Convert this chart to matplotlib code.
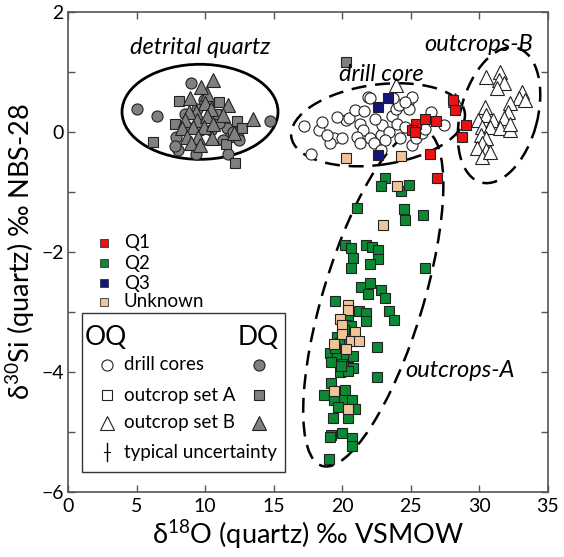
import matplotlib
matplotlib.use('Agg')
import matplotlib.pyplot as plt
from matplotlib.patches import Ellipse, Rectangle

plt.rcParams['font.family'] = ['Lato', 'DejaVu Sans']
plt.rcParams['mathtext.fontset'] = 'custom'
plt.rcParams['mathtext.rm'] = 'Lato'

# =Data
# detrital quartz (DQ, grey filled)
dq_circ_x = [9.0, 5.0, 6.5, 14.7, 9.3, 11.7, 8.0, 7.9, 7.8, 8.7, 9.6, 10.7, 10.4, 11.6, 12.4, 11.8,
             11.3, 12.5, 9.9, 9.4, 10.2, 8.5, 11.0, 12.0]
dq_circ_y = [0.81, 0.39, 0.27, 0.18, -0.36, -0.36, -0.30, -0.08, -0.24, 0.09, 0.03, 0.23, 0.03, 0.06,
             -0.08, -0.08, -0.13, -0.13, 0.53, 0.39, 0.45, 0.30, 0.15, 0.0]
dq_sq_x = [8.1, 11.0, 6.2, 12.2, 12.3, 12.7, 7.8, 10.8, 11.5, 20.3]
dq_sq_y = [0.52, 0.50, -0.17, -0.52, 0.18, 0.06, 0.14, 0.30, -0.20, 1.17]
dq_tri_x = [10.6, 11.7, 13.5, 8.9, 10.1, 10.0, 9.3, 10.4, 8.8, 8.5, 9.4, 10.1, 8.3, 9.1, 9.9, 10.6,
            8.7, 9.5, 10.5, 9.0, 9.6, 12.1, 11.3, 9.7]
dq_tri_y = [0.87, 0.45, 0.22, 0.56, 0.64, 0.48, 0.34, 0.39, 0.34, 0.20, 0.20, 0.26, 0.06, 0.09, 0.09,
            0.14, -0.08, -0.08, -0.10, -0.19, -0.22, -0.02, 0.28, 0.75]

# drill cores (OQ, open circles)
dc_x = [17.7, 18.3, 18.5, 19.4, 20.0, 19.1, 20.3, 20.5, 21.3, 21.5, 21.9, 22.0, 22.8, 22.9, 23.4, 23.6,
        23.9, 24.1, 24.8, 24.9, 25.1, 24.2, 25.1, 25.4, 25.8, 26.5, 26.0, 27.4, 21.1, 21.3, 22.3, 23.1,
        22.8, 24.0, 24.6, 20.9, 21.6, 22.4, 24.6, 23.7, 19.6, 17.2, 18.9, 22.0]
dc_y = [-0.36, 0.03, 0.17, -0.10, -0.10, -0.19, 0.20, 0.23, 0.14, 0.03, 0.59, -0.10, -0.05, 0.12, 0.00,
        0.26, 0.39, 0.45, 0.50, 0.39, 0.59, -0.10, -0.22, -0.10, -0.02, 0.34, 0.05, 0.12, -0.08, -0.19,
        -0.19, -0.14, -0.30, 0.14, 0.08, 0.37, 0.35, 0.22, 0.50, 0.56, 0.25, 0.10, -0.05, 0.57]

# outcrop set B (OQ, open triangles)
ob_x = [30.5, 31.5, 31.4, 31.8, 31.3, 33.1, 32.9, 33.3, 32.2, 30.4, 32.1, 30.5, 29.9, 31.0, 31.8, 30.2,
        30.8, 31.5, 32.2, 30.1, 30.5, 30.2, 29.8, 30.5, 30.2, 30.8, 32.2, 23.9, 28.2]
ob_y = [0.92, 1.00, 0.87, 0.81, 0.73, 0.67, 0.56, 0.53, 0.48, 0.42, 0.34, 0.28, 0.20, 0.20, 0.23, 0.09,
        0.09, 0.06, 0.03, -0.05, -0.10, -0.19, -0.27, -0.30, -0.41, -0.33, 0.14, 0.78, 0.53]

# outcrop set A (squares) by group
q1_x = [28.1, 28.2, 25.4, 26.0, 26.8, 25.1, 25.3, 29.0, 28.7, 26.4, 26.9]
q1_y = [0.53, 0.37, 0.14, 0.22, 0.19, 0.03, 0.00, 0.12, -0.09, -0.37, -0.77]
q2_x = [23.1, 22.8, 24.3, 24.9, 21.1, 24.5, 24.6, 25.9, 20.2, 20.6, 21.7, 22.2, 22.6, 20.8, 22.6, 20.6,
        22.0, 26.0, 21.4, 22.0, 21.9, 22.8, 23.1, 19.5, 23.4, 23.8, 21.2, 21.7, 21.7, 22.5, 22.5, 20.4,
        20.3, 20.6, 19.6, 19.8, 19.1, 19.6, 20.3, 20.8, 19.2, 20.0, 20.4, 20.8, 19.8, 20.4, 19.2, 18.7,
        20.2, 19.4, 20.1, 20.7, 19.7, 20.9, 20.4, 19.3, 19.2, 20.0, 20.7, 19.1, 20.7, 19.0, 20.1, 19.5,
        19.9, 20.5]
q2_y = [-0.77, -0.90, -0.98, -0.88, -1.26, -1.29, -1.46, -1.38, -1.88, -1.94, -1.88, -1.92, -1.96, -2.10,
        -2.11, -2.26, -2.20, -2.27, -2.58, -2.51, -2.70, -2.63, -2.77, -2.81, -2.99, -3.13, -2.99, -3.02,
        -3.15, -3.59, -4.09, -3.08, -3.22, -3.24, -3.41, -3.52, -3.68, -3.72, -3.74, -3.74, -3.83, -3.86,
        -3.91, -3.94, -4.00, -3.98, -4.19, -4.38, -4.30, -4.46, -4.47, -4.47, -4.58, -4.61, -4.76, -4.77,
        -5.05, -5.02, -5.10, -5.08, -5.24, -5.45, -3.30, -3.60, -3.90, -3.45]
q3_x = [22.6, 23.3, 22.6]
q3_y = [0.42, 0.57, -0.38]
unk_x = [20.3, 24.3, 24.0, 23.0, 20.4, 20.4, 19.8, 20.0, 20.0, 20.9, 20.6, 21.2, 19.4, 20.3, 19.4, 20.4]
unk_y = [-0.44, -0.40, -0.90, -1.55, -2.88, -2.96, -3.11, -3.22, -3.36, -3.33, -3.48, -3.49, -3.54,
         -3.61, -4.31, -4.61]

q_labels = ['Q1', 'Q2', 'Q3', 'Unknown']
q_colors = ['#ee1111', '#0a8a35', '#14147a', '#f0c49a']
grey = '#808080'

fig = plt.figure(figsize=(5.64, 5.57), dpi=100)
ax = fig.add_axes([0.1206, 0.1167, 0.851, 0.8618])

ms_c, ms_s, ms_t = 8, 6.8, 9.5
# detrital
ax.plot(dq_circ_x, dq_circ_y, 'o', ms=ms_c, mfc=grey, mec='#222', mew=0.8, ls='none')
ax.plot(dq_sq_x, dq_sq_y, 's', ms=ms_s, mfc=grey, mec='#222', mew=0.8, ls='none')
ax.plot(dq_tri_x, dq_tri_y, '^', ms=ms_t, mfc=grey, mec='#222', mew=0.8, ls='none')
# OQ
ax.plot(dc_x, dc_y, 'o', ms=ms_c, mfc='white', mec='#222', mew=0.8, ls='none')
ax.plot(ob_x, ob_y, '^', ms=ms_t, mfc='white', mec='#222', mew=0.8, ls='none')
for xs, ys, c in zip([q2_x, unk_x, q1_x, q3_x], [q2_y, unk_y, q1_y, q3_y],
                     [q_colors[1], q_colors[3], q_colors[0], q_colors[2]]):
    ax.plot(xs, ys, 's', ms=ms_s, mfc=c, mec='#222', mew=0.8, ls='none')

# group outlines (axes fraction, plot area is square)
tr = ax.transAxes
ax.add_patch(Ellipse((0.275, 0.792), 0.325, 0.198, fill=False, lw=2, ec='black', transform=tr))
dash = (0, (6, 3.5))
ax.add_patch(Ellipse((0.646, 0.765), 0.365, 0.167, angle=8, fill=False, lw=1.8, ec='black',
                     ls=dash, transform=tr))
ax.add_patch(Ellipse((0.898, 0.785), 0.29, 0.16, angle=75, fill=False, lw=1.8, ec='black',
                     ls=dash, transform=tr))
ax.add_patch(Ellipse((0.636, 0.404), 0.731, 0.208, angle=73, fill=False, lw=1.8, ec='black',
                     ls=dash, transform=tr))

ax.text(0.275, 0.925, 'detrital quartz', style='italic', fontsize=17, ha='center', va='center', transform=tr)
ax.text(0.652, 0.869, 'drill core', style='italic', fontsize=17, ha='center', va='center', transform=tr)
ax.text(0.855, 0.933, 'outcrops-B', style='italic', fontsize=17, ha='center', va='center', transform=tr)
ax.text(0.817, 0.254, 'outcrops-A', style='italic', fontsize=17, ha='center', va='center', transform=tr)

# colour legend
q_rows = [0.519, 0.477, 0.435, 0.396]
for lab, c, yy in zip(q_labels, q_colors, q_rows):
    ax.plot([0.074], [yy], 's', ms=5.5, mfc=c, mec='#333', mew=0.6, transform=tr)
    ax.text(0.116, yy, lab, fontsize=13.5, va='center', transform=tr)

# symbol legend box
ax.add_patch(Rectangle((0.029, 0.042), 0.423, 0.331, fill=False, lw=1, ec='#333', transform=tr))
ax.text(0.035, 0.321, 'OQ', fontsize=19, va='center', transform=tr)
ax.text(0.44, 0.321, 'DQ', fontsize=19, va='center', ha='right', transform=tr)
rows = [0.265, 0.202, 0.144]
names = ['drill cores', 'outcrop set A', 'outcrop set B']
marks = ['o', 's', '^']
sizes = [8, 7, 9.5]
for yy, nm, mk, sz in zip(rows, names, marks, sizes):
    ax.plot([0.081], [yy], mk, ms=sz, mfc='white', mec='#222', mew=0.8, transform=tr)
    ax.plot([0.398], [yy], mk, ms=sz, mfc=grey, mec='#222', mew=0.8, transform=tr)
    ax.text(0.116, yy, nm, fontsize=13.5, va='center', transform=tr)
ax.plot([0.081, 0.081], [0.064, 0.102], color='black', lw=1, transform=tr)
ax.plot([0.075, 0.087], [0.083, 0.083], color='black', lw=0.8, transform=tr)
ax.text(0.116, 0.083, 'typical uncertainty', fontsize=13.5, va='center', transform=tr)

# axes
ax.set_xlim(0, 35)
ax.set_ylim(-6, 2)
ax.set_xticks(range(0, 36, 5))
ax.set_yticks(range(-6, 3, 2))
ax.set_yticks(range(-5, 2, 2), minor=True)
ax.tick_params(which='both', direction='in', top=True, right=True, length=5, width=1,
               color='#555', labelsize=14)
ax.tick_params(axis='x', pad=4)
ax.tick_params(axis='y', pad=3)
for sp in ax.spines.values():
    sp.set_color('#555')
    sp.set_linewidth(1.2)
ax.set_xlabel(r'δ$^{\mathrm{18}}$O (quartz) ‰ VSMOW', fontsize=19.5, labelpad=2)
ax.set_ylabel(r'δ$^{\mathrm{30}}$Si (quartz) ‰ NBS-28', fontsize=19.5, labelpad=3)

fig.savefig('out.png', dpi=100)
